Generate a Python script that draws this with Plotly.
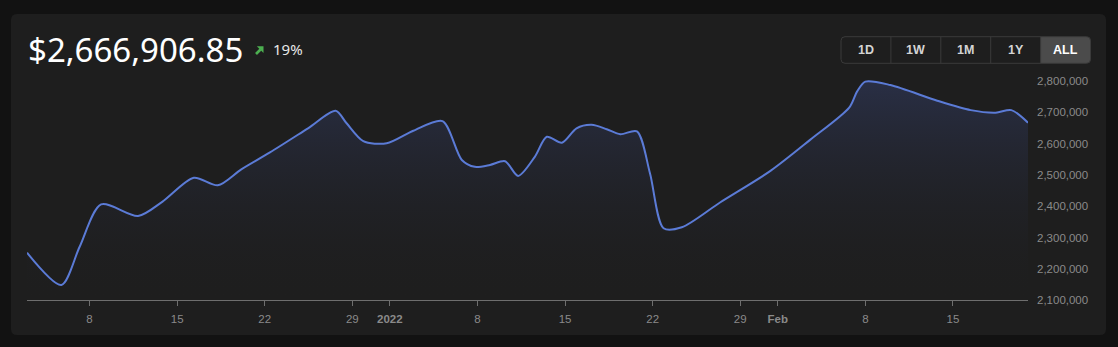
import plotly.graph_objects as go

W, H = 1118, 347

# ---------------- data ----------------
dates = [
    "2021-12-03 00:00", "2021-12-05 18:00", "2021-12-07 05:00", "2021-12-08 22:00",
    "2021-12-11 21:00", "2021-12-13 20:00", "2021-12-16 08:00", "2021-12-18 06:00",
    "2021-12-20 03:00", "2021-12-22 10:00", "2021-12-25 11:00", "2021-12-27 16:00",
    "2021-12-28 13:00", "2021-12-29 21:00", "2021-12-31 18:00", "2022-01-02 21:00",
    "2022-01-05 05:00", "2022-01-06 18:00", "2022-01-07 19:00", "2022-01-09 00:00",
    "2022-01-10 05:00", "2022-01-11 06:00", "2022-01-12 14:00", "2022-01-13 13:00",
    "2022-01-14 18:00", "2022-01-15 22:00", "2022-01-17 03:00", "2022-01-18 08:00",
    "2022-01-19 10:00", "2022-01-20 18:00", "2022-01-21 19:00", "2022-01-22 21:00",
    "2022-01-24 08:00", "2022-01-27 10:00", "2022-01-31 10:00",
    "2022-02-03 14:00", "2022-02-06 17:00", "2022-02-07 08:00", "2022-02-08 00:00",
    "2022-02-10 00:00", "2022-02-13 18:00", "2022-02-16 10:00", "2022-02-18 10:00",
    "2022-02-19 16:00", "2022-02-21 00:00",
]
values = [
    2252000, 2149000, 2271000, 2406000,
    2369000, 2415000, 2491000, 2467000,
    2518000, 2572000, 2649000, 2705000,
    2665000, 2608000, 2601000, 2641000,
    2672000, 2548000, 2526000, 2532000,
    2544000, 2497000, 2558000, 2622000,
    2603000, 2649000, 2660000, 2646000,
    2630000, 2639000, 2505000, 2330000,
    2333000, 2413000, 2513000,
    2612000, 2715000, 2766000, 2798000,
    2787000, 2737000, 2707000, 2699000,
    2707000, 2666906.85,
]
x_tick_vals = ["2021-12-08", "2021-12-15", "2021-12-22", "2021-12-29", "2022-01-01",
               "2022-01-08", "2022-01-15", "2022-01-22", "2022-01-29", "2022-02-01",
               "2022-02-08", "2022-02-15"]
x_tick_text = ["8", "15", "22", "29", "<b>2022</b>", "8", "15", "22", "29", "<b>Feb</b>", "8", "15"]
y_tick_vals = [2100000, 2200000, 2300000, 2400000, 2500000, 2600000, 2700000, 2800000]
x_range = ["2021-12-03 00:00", "2022-02-21 00:00"]
y_range = [2100000, 2830000]
title_value = "$2,666,906.85"
change_text = "19%"
buttons = ["1D", "1W", "1M", "1Y", "ALL"]
active_button = "ALL"

# ---------------- helpers (pixel -> paper) ----------------
def px(x):
    return x / W

def py(y):
    return 1 - y / H

def rounded_rect(x0, y0, x1, y1, r, corners=(True, True, True, True)):
    tl, tr, br, bl = corners
    p = []
    p.append(f"M {px(x0 + (r if tl else 0))},{py(y0)}")
    p.append(f"L {px(x1 - (r if tr else 0))},{py(y0)}")
    if tr:
        p.append(f"Q {px(x1)},{py(y0)} {px(x1)},{py(y0 + r)}")
    p.append(f"L {px(x1)},{py(y1 - (r if br else 0))}")
    if br:
        p.append(f"Q {px(x1)},{py(y1)} {px(x1 - r)},{py(y1)}")
    p.append(f"L {px(x0 + (r if bl else 0))},{py(y1)}")
    if bl:
        p.append(f"Q {px(x0)},{py(y1)} {px(x0)},{py(y1 - r)}")
    p.append(f"L {px(x0)},{py(y0 + (r if tl else 0))}")
    if tl:
        p.append(f"Q {px(x0)},{py(y0)} {px(x0 + r)},{py(y0)}")
    p.append("Z")
    return " ".join(p)

def poly(points):
    return "M " + " L ".join(f"{px(a)},{py(b)}" for a, b in points) + " Z"

# plot area in pixels
PL, PR = 27, 1028
PB = 300.3
scale = 31.33 / 100000  # px per unit
PT = PB - (y_range[1] - y_range[0]) * scale

LINE = "#5b7bd6"
GREEN = "#4caf50"

fig = go.Figure()
fig.add_trace(go.Scatter(
    x=dates, y=values, mode="lines",
    line=dict(color=LINE, width=2, shape="spline", smoothing=0.8),
    fill="tozeroy",
    fillgradient=dict(
        type="vertical",
        start=y_range[0], stop=2800000,
        colorscale=[[0, "rgba(30,30,34,0)"], [1, "rgba(70,90,170,0.28)"]],
    ),
    hoverinfo="skip",
))

shapes = []
# card
shapes.append(dict(type="path", xref="paper", yref="paper",
                   path=rounded_rect(11, 14, 1106, 335, 6),
                   fillcolor="#1e1e1e", line=dict(width=0), layer="below"))
# button group
bx0, bx1, by0, by1 = 841, 1090.5, 36.7, 63.3
bw = (bx1 - bx0) / len(buttons)
ai = buttons.index(active_button)
shapes.append(dict(type="path", xref="paper", yref="paper",
                   path=rounded_rect(bx0 + ai * bw, by0, bx0 + (ai + 1) * bw, by1, 4,
                                     corners=(False, True, True, False)),
                   fillcolor="#4b4b4b", line=dict(width=0), layer="above"))
shapes.append(dict(type="path", xref="paper", yref="paper",
                   path=rounded_rect(bx0, by0, bx1, by1, 4),
                   fillcolor="rgba(0,0,0,0)", line=dict(color="#3a3a3a", width=1), layer="above"))
for i in range(1, len(buttons)):
    xx = bx0 + i * bw
    shapes.append(dict(type="line", xref="paper", yref="paper",
                       x0=px(xx), x1=px(xx), y0=py(by0), y1=py(by1),
                       line=dict(color="#3a3a3a", width=1), layer="above"))

# green up-right arrow (shaft + head)
shapes.append(dict(type="line", xref="paper", yref="paper",
                   x0=px(256), y0=py(54), x1=px(260.5), y1=py(49.5),
                   line=dict(color=GREEN, width=2.6), layer="above"))
shapes.append(dict(type="path", xref="paper", yref="paper",
                   path=poly([(263.5, 46.3), (256.8, 46.3), (263.5, 53.0)]),
                   fillcolor=GREEN, line=dict(width=0), layer="above"))

annotations = []
annotations.append(dict(xref="paper", yref="paper", x=px(26), y=py(49),
                        xanchor="left", yanchor="middle", showarrow=False,
                        text=title_value,
                        font=dict(family="Noto Sans", size=33, color="#ffffff")))
annotations.append(dict(xref="paper", yref="paper", x=px(271), y=py(49),
                        xanchor="left", yanchor="middle", showarrow=False,
                        text=change_text,
                        font=dict(family="Noto Sans", size=15, color="#e8e8e8")))
for i, b in enumerate(buttons):
    annotations.append(dict(xref="paper", yref="paper", x=px(bx0 + (i + 0.5) * bw), y=py(50),
                            xanchor="center", yanchor="middle", showarrow=False,
                            text=f"<b>{b}</b>",
                            font=dict(family="Liberation Sans", size=12.5,
                                      color="#ffffff" if b == active_button else "#d4d4d4")))

fig.update_layout(
    width=W, height=H,
    margin=dict(l=0, r=0, t=0, b=0, pad=0),
    paper_bgcolor="#121212",
    plot_bgcolor="rgba(0,0,0,0)",
    showlegend=False,
    shapes=shapes,
    annotations=annotations,
    xaxis=dict(
        domain=[px(PL), px(PR)], range=x_range, type="date",
        tickvals=x_tick_vals, ticktext=x_tick_text,
        showgrid=False, zeroline=False,
        showline=True, linecolor="#6e6e6e", linewidth=1,
        ticks="outside", ticklen=5, tickcolor="#6e6e6e", tickwidth=1,
        ticklabelstandoff=3,
        tickfont=dict(family="Liberation Sans", size=11.5, color="#8a8a8a"),
        automargin=False, fixedrange=True,
    ),
    yaxis=dict(
        domain=[py(PB), py(PT)], range=y_range,
        side="right", tickvals=y_tick_vals, tickformat=",",
        showgrid=False, zeroline=False, showline=False, ticks="",
        ticklabelstandoff=8,
        tickfont=dict(family="Liberation Sans", size=11.5, color="#8a8a8a"),
        automargin=False, fixedrange=True,
    ),
)

fig.write_html("out.html", config={"displayModeBar": False})
